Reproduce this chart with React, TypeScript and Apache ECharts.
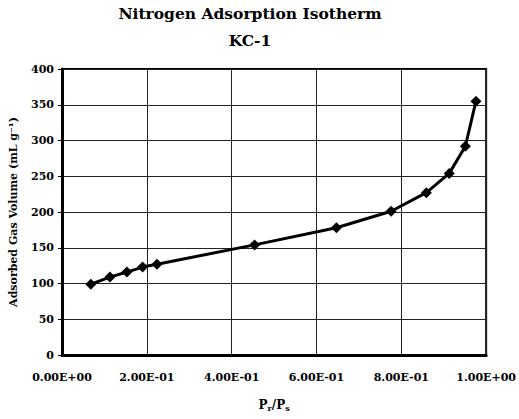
import React, { useEffect, useRef } from "react";
import * as echarts from "echarts";

const pressureRatio = [0.068, 0.113, 0.153, 0.19, 0.224, 0.454, 0.647, 0.776, 0.859, 0.913, 0.951, 0.976];
const gasVolume = [99, 109, 116, 123, 127, 154, 178, 201, 227, 254, 292, 355];
const titleLines = ["Nitrogen Adsorption Isotherm", "KC-1"];
const yAxisName = "Adsorbed Gas Volume (mL g⁻¹)";

const FONT = "DejaVu Serif";

function sci(v: number): string {
  const s = v.toExponential(2).toUpperCase();
  const [m, e] = s.split("E");
  const sign = e.startsWith("-") ? "-" : "+";
  const digits = e.replace(/[+-]/, "").padStart(2, "0");
  return `${m}E${sign}${digits}`;
}

export default function App() {
  const ref = useRef<HTMLDivElement>(null);
  useEffect(() => {
    if (!ref.current) return;
    const chart = echarts.init(ref.current, null, { renderer: "svg" });
    chart.setOption({
      animation: false,
      backgroundColor: "#fff",
      title: {
        text: titleLines.join("\n"),
        left: 250,
        textAlign: "center",
        top: 0,
        padding: 0,
        textStyle: { fontFamily: FONT, fontWeight: "bold", fontSize: 15.5, color: "#000", lineHeight: 27 },
      },
      grid: {
        left: 62,
        right: 32,
        top: 69,
        bottom: 64,
        show: true,
        borderColor: "#000",
        borderWidth: 2,
        backgroundColor: "transparent",
      },
      xAxis: {
        type: "value",
        min: 0,
        max: 1,
        interval: 0.2,
        name: "{a|P}{b|r}{a|/P}{b|s}",
        nameLocation: "middle",
        nameGap: 43,
        nameTextStyle: {
          rich: {
            a: { fontFamily: FONT, fontWeight: "bold", fontSize: 12, color: "#000" },
            b: { fontFamily: FONT, fontWeight: "bold", fontSize: 8, color: "#000", verticalAlign: "bottom", padding: [6, 0, 0, 0] },
          },
        },
        axisLine: { show: true, onZero: false, lineStyle: { color: "#000", width: 3 } },
        axisTick: { show: false },
        axisLabel: {
          formatter: (v: number) => sci(v),
          margin: 17,
          fontFamily: FONT,
          fontWeight: "bold",
          fontSize: 11,
          color: "#000",
        },
        splitLine: { show: true, lineStyle: { color: "#222", width: 1 } },
      },
      yAxis: {
        type: "value",
        min: 0,
        max: 400,
        interval: 50,
        name: yAxisName,
        nameLocation: "middle",
        nameGap: 43,
        nameTextStyle: { fontFamily: FONT, fontWeight: "bold", fontSize: 11, color: "#000" },
        axisLine: { show: true, lineStyle: { color: "#000", width: 3 } },
        axisTick: { show: true, length: 4, lineStyle: { color: "#000", width: 1 } },
        axisLabel: { margin: 8, fontFamily: FONT, fontWeight: "bold", fontSize: 11, color: "#000" },
        splitLine: { show: true, lineStyle: { color: "#222", width: 1 } },
      },
      series: [
        {
          type: "line",
          data: pressureRatio.map((x, i) => [x, gasVolume[i]]),
          symbol: "diamond",
          symbolSize: 11,
          lineStyle: { color: "#000", width: 3 },
          itemStyle: { color: "#000" },
        },
      ],
    });
    return () => chart.dispose();
  }, []);
  return <div ref={ref} style={{ width: 519, height: 419, position: "absolute", left: 0, top: 0 }} />;
}
